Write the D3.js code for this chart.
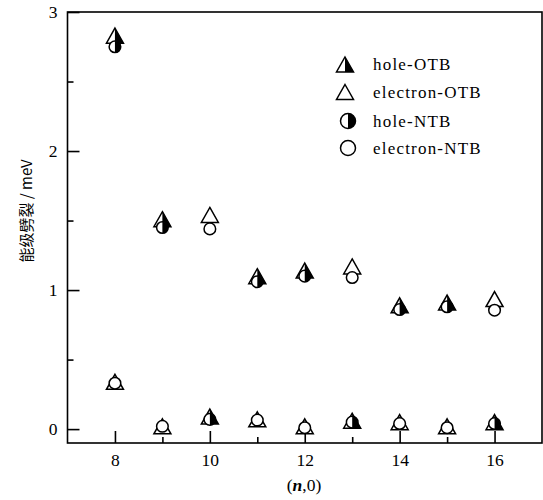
<!DOCTYPE html>
<html>
<head>
<meta charset="utf-8">
<script src="https://cdn.jsdelivr.net/npm/d3@7"></script>
<style>
body { margin: 0; background: #fff; }
svg { display: block; }
text { font-family: "Liberation Serif", "DejaVu Serif", serif; }
</style>
</head>
<body>
<svg id="chart" width="543" height="500"></svg>
<script>
const nValues = [8, 9, 10, 11, 12, 13, 14, 15, 16];
const holeOTB     = [2.83, 1.51, 0.09, 1.10, 1.14, 0.06, 0.89, 0.91, 0.05];
const electronOTB = [0.34, 0.02, 1.54, 0.07, 0.02, 1.17, 0.05, 0.02, 0.935];
const holeNTB     = [2.75, 1.45, 0.07, 1.06, 1.10, 0.05, 0.86, 0.88, 0.04];
const electronNTB = [0.33, 0.02, 1.44, 0.065, 0.01, 1.09, 0.04, 0.01, 0.855];
const xMajorTicks = [8, 10, 12, 14, 16];
const xMinorTicks = [9, 11, 13, 15];
const yMajorTicks = [0, 1, 2, 3];
const yMinorTicks = [0.5, 1.5, 2.5];
const seriesNames = ["hole-OTB", "electron-OTB", "hole-NTB", "electron-NTB"];
const yLabel = "能级劈裂 / meV";

const svg = d3.select("#chart");
const L = 67.5, R = 542, T = 12, B = 443;
const x = d3.scaleLinear().domain([7, 17]).range([L, R]);
const y = d3.scaleLinear().domain([-0.1, 3]).range([B, T]);

const serif = "Liberation Serif";

// frame
svg.append("rect").attr("x", L).attr("y", T).attr("width", R - L).attr("height", B - T)
  .attr("fill", "none").attr("stroke", "#000").attr("stroke-width", 1.6);

// x axis ticks (inward)
const xAxisMajor = d3.axisBottom(x).tickValues(xMajorTicks).tickSizeInner(-12).tickSizeOuter(0).tickPadding(11).tickFormat(d3.format("d"));
const xAxisMinor = d3.axisBottom(x).tickValues(xMinorTicks).tickSizeInner(-6).tickSizeOuter(0).tickFormat("");
const gx = svg.append("g").attr("transform", `translate(0,${B})`).call(xAxisMajor);
const gx2 = svg.append("g").attr("transform", `translate(0,${B})`).call(xAxisMinor);
gx.select(".domain").remove(); gx2.select(".domain").remove();
gx.selectAll("text").attr("font-family", serif).attr("font-size", 17.5).attr("fill", "#000");

const yAxisMajor = d3.axisLeft(y).tickValues(yMajorTicks).tickSizeInner(-12).tickSizeOuter(0).tickPadding(10).tickFormat(d3.format("d"));
const yAxisMinor = d3.axisLeft(y).tickValues(yMinorTicks).tickSizeInner(-6).tickSizeOuter(0).tickFormat("");
const gy = svg.append("g").attr("transform", `translate(${L},0)`).call(yAxisMajor);
const gy2 = svg.append("g").attr("transform", `translate(${L},0)`).call(yAxisMinor);
gy.select(".domain").remove(); gy2.select(".domain").remove();
gy.selectAll("text").attr("font-family", serif).attr("font-size", 17.5).attr("fill", "#000");
svg.selectAll(".tick line").attr("stroke-width", 1.6);

// axis labels
const xl = svg.append("text").attr("x", 304).attr("y", 491).attr("text-anchor", "middle")
  .attr("font-family", serif).attr("font-size", 17.5).attr("fill", "#000");
xl.append("tspan").text("(");
xl.append("tspan").attr("font-style", "italic").attr("font-weight", "bold").text("n");
xl.append("tspan").text(",0)");

svg.append("text").attr("transform", "translate(32,211) rotate(-90)").attr("text-anchor", "middle")
  .style("font-family", "'Noto Sans CJK SC', sans-serif").attr("font-size", 15).attr("fill", "#000")
  .text(yLabel);

// marker drawing
function triangle(g, cx, cy, w, h, half) {
  const top = [cx, cy - h / 2], bl = [cx - w / 2, cy + h / 2], br = [cx + w / 2, cy + h / 2];
  g.append("path").attr("d", `M${top}L${br}L${bl}Z`).attr("fill", "#fff").attr("stroke", "#000").attr("stroke-width", 1.5);
  if (half) {
    g.append("path").attr("d", `M${top}L${br}L${[cx, cy + h / 2]}Z`).attr("fill", "#000");
  }
}
function circle(g, cx, cy, r, half) {
  g.append("circle").attr("cx", cx).attr("cy", cy).attr("r", r).attr("fill", "#fff").attr("stroke", "#000").attr("stroke-width", 1.5);
  if (half) {
    g.append("path").attr("d", `M${cx},${cy - r}A${r},${r} 0 0 1 ${cx},${cy + r}Z`).attr("fill", "#000");
  }
}

const pts = svg.append("g");
const triW = 17, triH = 15, cirR = 5.8;
nValues.forEach((n, i) => {
  triangle(pts, x(n), y(electronOTB[i]), triW, triH, false);
  triangle(pts, x(n), y(holeOTB[i]), triW, triH, true);
});
nValues.forEach((n, i) => {
  circle(pts, x(n), y(electronNTB[i]), cirR, false);
  circle(pts, x(n), y(holeNTB[i]), cirR, true);
});

// legend
const leg = svg.append("g");
const legY = [64.5, 92, 121, 148];
triangle(leg, 345, legY[0], 17, 15, true);
triangle(leg, 345, legY[1], 17, 15, false);
circle(leg, 348, legY[2], 7.5, true);
circle(leg, 348, legY[3], 7.5, false);
seriesNames.forEach((s, i) => {
  leg.append("text").attr("x", 373).attr("y", legY[i]).attr("dy", "0.35em")
    .attr("font-family", serif).attr("font-size", 17).attr("letter-spacing", 1.2).attr("fill", "#000").text(s);
});
</script>
</body>
</html>
